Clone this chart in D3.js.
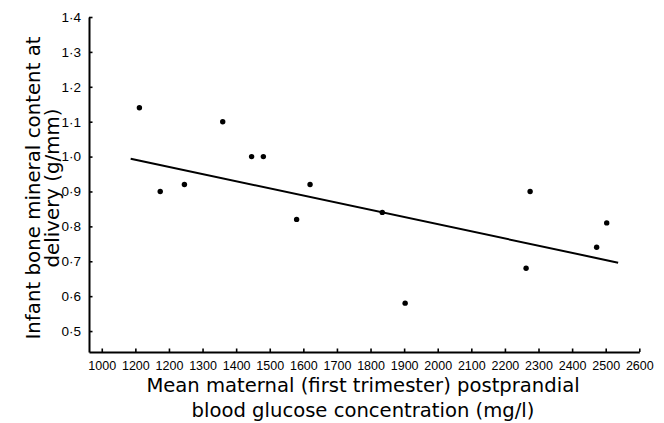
<!DOCTYPE html>
<html>
<head>
<meta charset="utf-8">
<script src="https://cdn.jsdelivr.net/npm/d3@7"></script>
<style>
  body { margin: 0; background: #fff; }
</style>
</head>
<body>
<div class="chart"></div>
<script>
// Data
var glucose = [1112, 1360, 1446, 1481, 1174, 1246, 1620, 1580, 1835, 1903, 2275, 2263, 2473, 2503];
var boneMineral = [1.14, 1.10, 1.00, 1.00, 0.90, 0.92, 0.92, 0.82, 0.84, 0.58, 0.90, 0.68, 0.74, 0.81];

// fitted line, two ends
var fitX = [1086, 2537];
var fitY = [0.994, 0.696];

var xTickValues = [1000, 1100, 1200, 1300, 1400, 1500, 1600, 1700, 1800, 1900, 2000, 2100, 2200, 2300, 2400, 2500, 2600];
// the second label really says 1200 in the original
var xTickLabels = ["1000", "1200", "1200", "1300", "1400", "1500", "1600", "1700", "1800", "1900", "2000", "2100", "2200", "2300", "2400", "2500", "2600"];
var yTickValues = [0.5, 0.6, 0.7, 0.8, 0.9, 1.0, 1.1, 1.2, 1.3, 1.4];
var yTickLabels = ["0·5", "0·6", "0·7", "0·8", "0·9", "1·0", "1·1", "1·2", "1·3", "1·4"];

var svgWidth = 664;
var svgHeight = 423;

var svg = d3.select(".chart")
  .append("svg")
  .attr("width", svgWidth)
  .attr("height", svgHeight);

var points = glucose.map((g, i) => ({ x: g, y: boneMineral[i] }));

// Scales
var xScale = d3.scaleLinear()
  .domain([962, 2600])
  .range([89, 639.3]);

var yScale = d3.scaleLinear()
  .domain([0.44, 1.4])
  .range([352, 17]);

// Axes, ticks point inwards
var bottomAxis = d3.axisBottom(xScale)
  .tickValues(xTickValues)
  .tickSizeInner(-3.5)
  .tickSizeOuter(0)
  .tickPadding(9)
  .tickFormat((d, i) => xTickLabels[i]);

var leftAxis = d3.axisLeft(yScale)
  .tickValues(yTickValues)
  .tickSizeInner(-3.5)
  .tickSizeOuter(0)
  .tickPadding(8)
  .tickFormat((d, i) => yTickLabels[i]);

var xAxisG = svg.append("g")
  .attr("transform", `translate(0, ${yScale(0.44)})`)
  .call(bottomAxis)
  .attr("font-family", "'Liberation Sans Narrow', 'Arial Narrow', sans-serif")
  .attr("font-size", 12.5);
xAxisG.selectAll("text").attr("fill", "#000");

var yAxisG = svg.append("g")
  .attr("transform", `translate(${xScale(962)}, 0)`)
  .call(leftAxis)
  .attr("font-family", "'Liberation Sans', Arial, sans-serif")
  .attr("font-size", 13.5);
yAxisG.selectAll("text").attr("fill", "#000");

svg.selectAll(".domain").attr("stroke", "#000").attr("stroke-width", 2);
svg.selectAll(".tick line").attr("stroke", "#000").attr("stroke-width", 1.6);

// Regression line
var line = d3.line()
  .x(d => xScale(d[0]))
  .y(d => yScale(d[1]));

svg.append("path")
  .datum(d3.zip(fitX, fitY))
  .attr("d", line)
  .attr("fill", "none")
  .attr("stroke", "#000")
  .attr("stroke-width", 2);

// Points
svg.selectAll("circle")
  .data(points)
  .enter()
  .append("circle")
  .attr("cx", d => xScale(d.x))
  .attr("cy", d => yScale(d.y))
  .attr("r", 2.7)
  .attr("fill", "#000");

// Axis titles
var yTitle = svg.append("text")
  .attr("font-family", "'DejaVu Sans', sans-serif")
  .attr("font-size", 19.8)
  .attr("text-anchor", "middle")
  .attr("transform", "translate(40, 188) rotate(-90)");
yTitle.append("tspan").attr("x", 0).attr("y", 0).text("Infant bone mineral content at");
yTitle.append("tspan").attr("x", 0).attr("y", 19).text("delivery (g/mm)");

var xTitle = svg.append("text")
  .attr("font-family", "'DejaVu Sans', sans-serif")
  .attr("font-size", 19.6)
  .attr("text-anchor", "middle")
  .attr("transform", "translate(363, 392)");
xTitle.append("tspan").attr("x", 0).attr("y", 0).text("Mean maternal (first trimester) postprandial");
xTitle.append("tspan").attr("x", 0).attr("y", 25).text("blood glucose concentration (mg/l)");
</script>
</body>
</html>
